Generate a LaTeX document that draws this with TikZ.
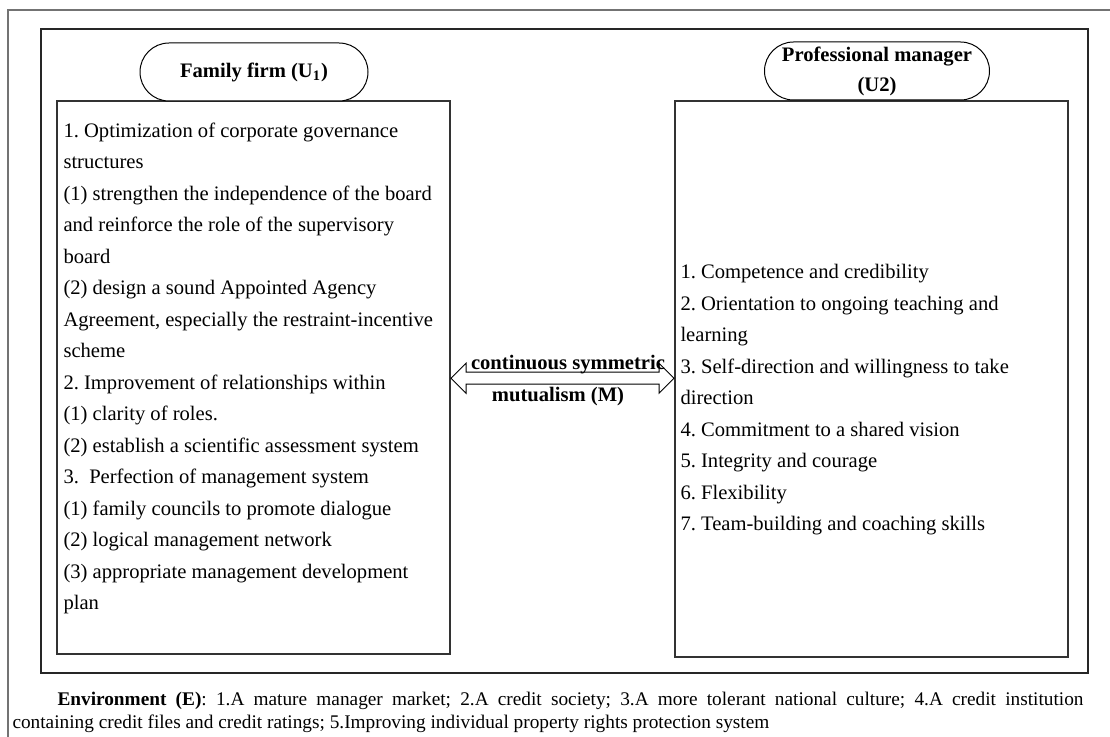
\documentclass[tikz,border=0pt]{standalone}
\usepackage{fontspec}
\setmainfont{Liberation Serif}
\usetikzlibrary{shapes.arrows,calc}

\tikzset{
  outerframe/.style={draw=black!55,line width=.7pt},
  innerframe/.style={draw=black!85,line width=.6pt},
  itembox/.style={draw=black!80,line width=.6pt,inner sep=0pt},
  header/.style={draw,line width=.5pt,rounded corners=14.5pt,minimum height=29pt,
    align=center,inner sep=1pt,font=\bfseries\fontsize{10.3}{15}\selectfont},
  itemtext/.style={anchor=north west,inner sep=0pt,align=left,
    font=\fontsize{10.3}{15.75}\selectfont},
  arrowlabel/.style={inner sep=0pt,font=\bfseries\fontsize{10.3}{12}\selectfont},
}

\begin{document}
\frenchspacing
\begin{tikzpicture}[x=0.5pt,y=-0.5pt,line width=.5pt]
\useasboundingbox (0,0) rectangle (1110,737);

% frames
\draw[outerframe] (8,737) |- (1110,10);
\draw[innerframe] (41,29) rectangle (1088,673);

% the two parties
\node[itembox,minimum width=196.5pt,minimum height=276.5pt] (lbox) at (253.5,377.5) {};
\node[itembox,minimum width=196.5pt,minimum height=278pt] (rbox) at (871.5,379) {};
\node[header,minimum width=114pt,fill=white] (lhead) at (254,72) {Family firm (U\textsubscript{1})};
\node[header,minimum width=112.5pt,fill=white] (rhead) at (877,71) {Professional manager\\(U2)};

\node[itemtext] (ltext) at (63,122) {1. Optimization of corporate governance\\
structures\\
(1) strengthen the independence of the board\\
and reinforce the role of the supervisory\\
board\\
(2) design a sound Appointed Agency\\
Agreement, especially the restraint-incentive\\
scheme\\
2. Improvement of relationships within\\
(1) clarity of roles.\\
(2) establish a scientific assessment system\\
3.\ \ Perfection of management system\\
(1) family councils to promote dialogue\\
(2) logical management network\\
(3) appropriate management development\\
plan};

\node[itemtext] (rtext) at (680,264) {1. Competence and credibility\\
2. Orientation to ongoing teaching and\\
learning\\
3. Self-direction and willingness to take\\
direction\\
4. Commitment to a shared vision\\
5. Integrity and courage\\
6. Flexibility\\
7. Team-building and coaching skills};

% symmetric mutualism
\node[double arrow,draw,inner sep=2.75pt,double arrow head extend=4.5pt,
  minimum height=111.5pt] (mutual) at ($(lbox.east)!.5!(rbox.west)$) {};
\node[arrowlabel] (mtop) at ($(mutual.center)+(5.5,-14)$) {continuous symmetric};
\node[arrowlabel] (mbot) at ($(mutual.center)+(-4.5,18)$) {mutualism (M)};

% environment
\node[anchor=north west,inner sep=0pt,align=justify,text width=535.5pt,
  font=\fontsize{9.65}{11.5}\selectfont] (envtext) at (12,692)
 {\hspace*{22.5pt}\textbf{Environment (E)}: 1.A mature manager market; 2.A credit society; 3.A more tolerant national culture; 4.A credit institution\linebreak
containing credit files and credit ratings; 5.Improving individual property rights protection system};
\end{tikzpicture}
\end{document}
